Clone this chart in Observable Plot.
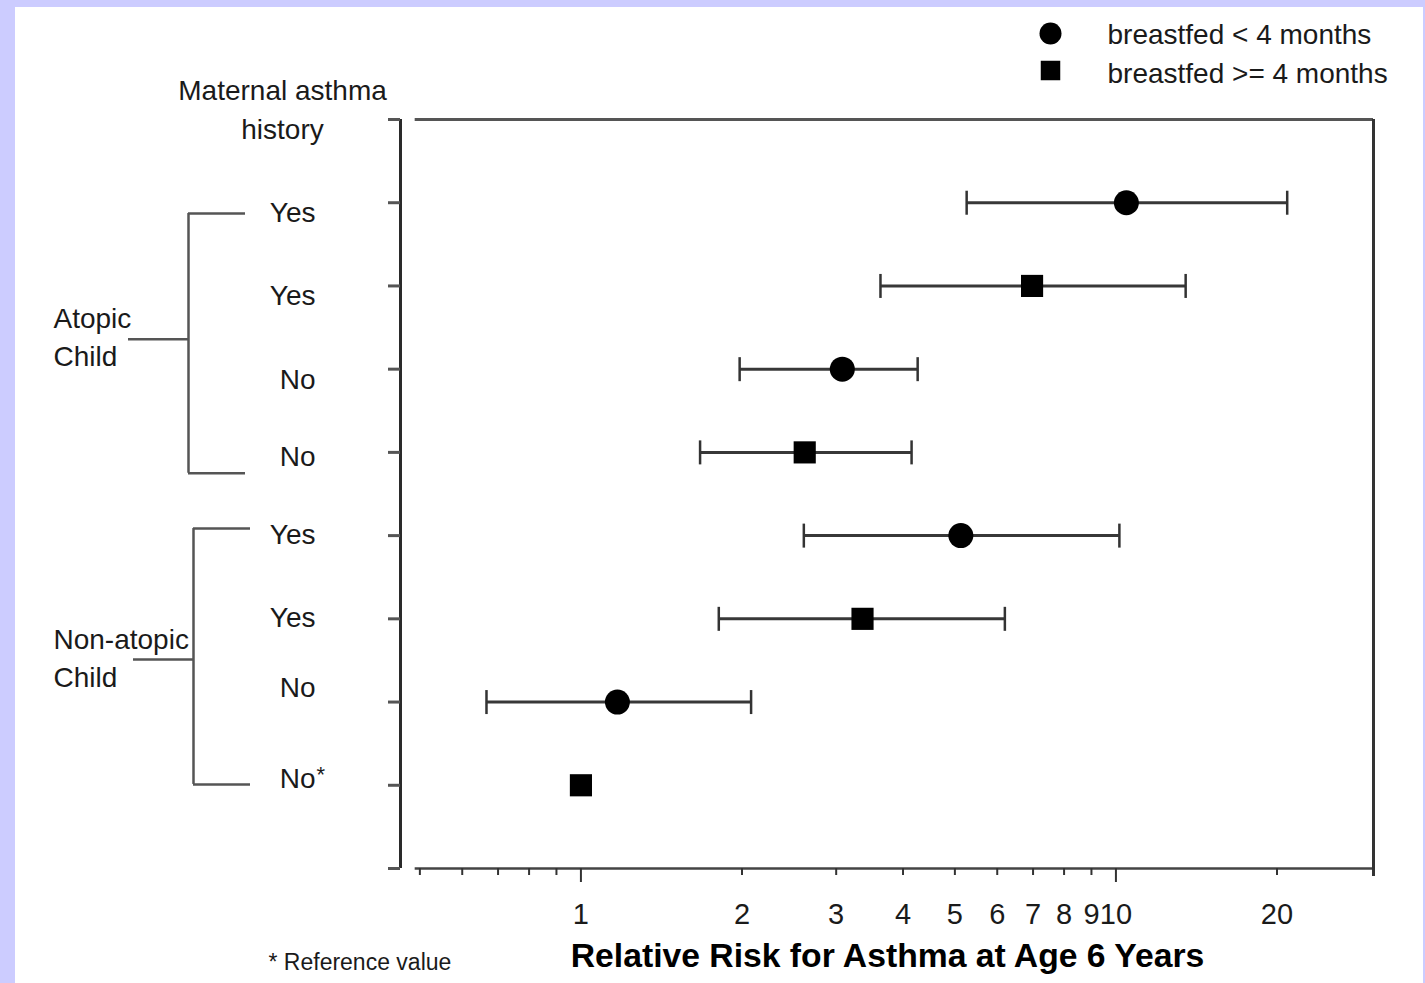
<!DOCTYPE html>
<html>
<head>
<meta charset="utf-8">
<script src="https://cdn.jsdelivr.net/npm/d3@7"></script>
<script src="https://cdn.jsdelivr.net/npm/@observablehq/plot@0.6"></script>
<style>
  html, body { margin: 0; padding: 0; background: #ccccff; overflow: hidden; }
  #page { position: absolute; left: 15px; top: 7px; width: 1408px; height: 976px; background: #ffffff; }
  #wrap { position: absolute; left: 0; top: 0; width: 1425px; height: 983px; }
  #wrap svg { position: absolute; left: 0; top: 0; }
</style>
</head>
<body>
<div id="page"></div>
<div id="wrap"></div>
<script>
// ---------------- data ----------------
const rows = [1, 2, 3, 4, 5, 6, 7, 8];
const childGroup = ["Atopic", "Atopic", "Atopic", "Atopic", "Non-atopic", "Non-atopic", "Non-atopic", "Non-atopic"];
const maternalAsthma = ["Yes", "Yes", "No", "No", "Yes", "Yes", "No", "No*"];
const breastfeeding = ["breastfed < 4 months", "breastfed >= 4 months", "breastfed < 4 months", "breastfed >= 4 months",
                       "breastfed < 4 months", "breastfed >= 4 months", "breastfed < 4 months", "breastfed >= 4 months"];
const relativeRisk = [10.46, 6.97, 3.08, 2.62, 5.13, 3.36, 1.17, 1.0];
const ciLow  = [5.26, 3.63, 1.98, 1.67, 2.61, 1.81, 0.666, null];
const ciHigh = [20.9, 13.5, 4.26, 4.15, 10.15, 6.20, 2.08, null];
const labelRows = [1.124, 2.127, 3.13, 4.05, 4.99, 5.99, 6.83, 7.92];

const legendLabels = ["breastfed < 4 months", "breastfed >= 4 months"];
const groupLabels = ["Atopic\nChild", "Non-atopic\nChild"];
const groupSpanTop = [1.13, 4.915];
const groupSpanBottom = [4.25, 7.99];
const groupStem = [2.64, 6.49];

const xTickLabels = [1, 2, 3, 4, 5, 6, 7, 8, 9, 10, 20];
const xMinorTicks = [0.5, 0.6, 0.7, 0.8, 0.9];
const xLongTicks = [1, 10];
const yTicks = [0, 1, 2, 3, 4, 5, 6, 7, 8, 9];

const headerText = "Maternal asthma\nhistory";
const xTitle = "Relative Risk for Asthma at Age 6 Years";
const footnote = "* Reference value";

// ---------------- build ----------------
const FONT = "'Liberation Sans', Arial, Helvetica, sans-serif";
const xMin = 0.46, xMax = 30.3, axisStart = 0.49;
const yTop = 0, yBottom = 9;

const table = rows.map((row, i) => ({
  row, group: childGroup[i], maternal: maternalAsthma[i], breastfed: breastfeeding[i],
  rr: relativeRisk[i], lo: ciLow[i], hi: ciHigh[i], labelRow: labelRows[i]
}));
const ci = table.filter(d => d.lo != null);
const shortTicks = xMinorTicks.concat(xTickLabels.filter(t => !xLongTicks.includes(t)));

const capSymbol = {
  draw(context, size) {
    const r = Math.sqrt(size / Math.PI);
    context.moveTo(0, -r);
    context.lineTo(0, r);
  }
};

const main = Plot.plot({
  width: 1425, height: 983,
  marginLeft: 400, marginRight: 52, marginTop: 119, marginBottom: 115,
  style: {background: "transparent", fontFamily: FONT, color: "#1a1a1a"},
  x: {type: "log", domain: [xMin, xMax], axis: null},
  y: {domain: [yTop, yBottom], reverse: true, axis: null},
  symbol: {domain: legendLabels, range: ["circle", "square"]},
  marks: [
    // frame pieces
    Plot.ruleY([yTop], {x1: axisStart, x2: xMax, stroke: "#555", strokeWidth: 2.8}),
    Plot.ruleY([yBottom], {x1: axisStart, x2: xMax, stroke: "#444", strokeWidth: 2.5}),
    Plot.ruleX([xMax], {y1: yTop, y2: yBottom, insetBottom: -8, stroke: "#333", strokeWidth: 3}),
    Plot.ruleX([xMin], {y1: yTop, y2: yBottom, stroke: "#2a2a2a", strokeWidth: 3}),
    // y ticks (to the left of the y axis line)
    Plot.ruleY(yTicks, {y: d => d, x1: xMin, x2: xMin, insetLeft: -12, stroke: "#555", strokeWidth: 3}),
    // x ticks (below the x axis line)
    Plot.ruleX(shortTicks, {x: d => d, y1: yBottom, y2: yBottom, insetBottom: -7, stroke: "#333", strokeWidth: 2}),
    Plot.ruleX(xLongTicks, {x: d => d, y1: yBottom, y2: yBottom, insetBottom: -14, stroke: "#333", strokeWidth: 2}),
    Plot.text(xTickLabels, {x: d => d, frameAnchor: "bottom", dy: 35, lineAnchor: "top", text: d => String(d),
                            textAnchor: "middle", fontSize: 29, fill: "#1a1a1a"}),
    // confidence intervals
    Plot.ruleY(ci, {y: "row", x1: "lo", x2: "hi", stroke: "#383838", strokeWidth: 3}),
    Plot.dot(ci, {x: "lo", y: "row", symbol: capSymbol, r: 12, stroke: "#333", strokeWidth: 2.5, fill: "none"}),
    Plot.dot(ci, {x: "hi", y: "row", symbol: capSymbol, r: 12, stroke: "#333", strokeWidth: 2.5, fill: "none"}),
    // point estimates
    Plot.dot(table, {x: "rr", y: "row", symbol: "breastfed", r: 12.5, fill: "#000", stroke: "none"})
  ]
});

const yPx = v => main.scale("y").apply(v);

const groups = groupLabels.map((label, i) => ({
  label, top: yPx(groupSpanTop[i]), bottom: yPx(groupSpanBottom[i]), stem: yPx(groupStem[i]), bx: i === 0 ? 188 : 193
}));
const bracketH = groups.flatMap(g => [
  {y: g.top, x1: g.bx, x2: g.bx + 57},
  {y: g.bottom, x1: g.bx, x2: g.bx + 57},
  {y: g.stem, x1: g.bx - 60, x2: g.bx}
]);

const overlay = Plot.plot({
  width: 1425, height: 983, margin: 0,
  style: {background: "transparent", fontFamily: FONT, color: "#1a1a1a"},
  x: {type: "identity", axis: null},
  y: {type: "identity", axis: null},
  symbol: {domain: legendLabels, range: ["circle", "square"]},
  marks: [
    // row labels (maternal asthma history)
    Plot.text(table, {x: 315, y: d => yPx(d.labelRow), text: d => d.maternal.replace("*", ""),
                      textAnchor: "end", lineAnchor: "middle", fontSize: 28, fill: "#1a1a1a"}),
    Plot.text(table.filter(d => d.maternal.endsWith("*")), {x: 316, y: d => yPx(d.labelRow) - 4, text: () => "*",
                      textAnchor: "start", lineAnchor: "middle", fontSize: 22, fill: "#1a1a1a"}),
    // header
    Plot.text([headerText], {x: 282, y: 138, text: d => d, textAnchor: "middle", lineAnchor: "bottom",
                             lineHeight: 1.36, fontSize: 28, fill: "#1a1a1a"}),
    // group brackets
    Plot.ruleX(groups, {x: "bx", y1: "top", y2: "bottom", stroke: "#555", strokeWidth: 2.5}),
    Plot.ruleY(bracketH, {y: "y", x1: "x1", x2: "x2", stroke: "#555", strokeWidth: 2.5}),
    Plot.text(groups, {x: 53, y: d => d.stem + 27, text: "label", textAnchor: "start", lineAnchor: "bottom",
                       lineHeight: 1.36, fontSize: 28, fill: "#1a1a1a"}),
    // legend
    Plot.dot(legendLabels, {x: 1050, y: (d, i) => 33 + i * 37, symbol: d => d, r: 11, fill: "#000", stroke: "none"}),
    Plot.text(legendLabels, {x: 1107, y: (d, i) => 43 + i * 39, text: d => d, textAnchor: "start",
                             lineAnchor: "bottom", fontSize: 28, fill: "#1a1a1a"}),
    // axis title and footnote
    Plot.text([xTitle], {x: 887, y: 966, text: d => d, textAnchor: "middle", lineAnchor: "bottom",
                         fontSize: 33.7, fontWeight: "bold", fill: "#000"}),
    Plot.text([footnote], {x: 268, y: 969, text: d => d, textAnchor: "start", lineAnchor: "bottom",
                           fontSize: 23, fill: "#1a1a1a"})
  ]
});

const wrap = document.getElementById("wrap");
wrap.appendChild(main);
wrap.appendChild(overlay);
</script>
</body>
</html>
